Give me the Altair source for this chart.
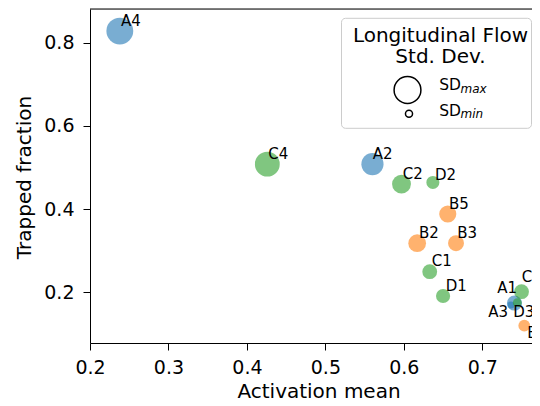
import altair as alt
import pandas as pd

# ---- data ----
names = ["A1", "A2", "A3", "A4", "B1", "B2", "B3", "B5",
         "C1", "C2", "C3", "C4", "D1", "D2", "D3"]
activation_mean = [0.741, 0.560, 0.7366, 0.238, 0.7535, 0.617, 0.6665, 0.656,
                   0.633, 0.597, 0.750, 0.426, 0.650, 0.637, 0.7446]
trapped_fraction = [0.174, 0.508, 0.1695, 0.828, 0.1197, 0.318, 0.318, 0.388,
                    0.2495, 0.460, 0.2014, 0.508, 0.191, 0.464, 0.175]
flow_sd = [0.227, 0.49, 0.05, 0.72, 0.139, 0.314, 0.254, 0.293,
           0.219, 0.356, 0.219, 0.616, 0.201, 0.17, 0.079]
label_x = [0.7191, 0.5603, 0.7076, 0.2395, 0.7574, 0.6193, 0.6681, 0.6575,
           0.6355, 0.5985, 0.7502, 0.4273, 0.6534, 0.6397, 0.7395]
label_y = [0.1976, 0.5197, 0.1399, 0.840, 0.0894, 0.3313, 0.3313, 0.4002,
           0.2632, 0.4716, 0.2255, 0.5197, 0.2038, 0.470, 0.1399]

groups = ["A", "B", "C", "D"]
group_colors = ["#1f77b4", "#ff7f0e", "#2ca02c", "#2ca02c"]
x_ticks = [0.2, 0.3, 0.4, 0.5, 0.6, 0.7]
y_ticks = [0.2, 0.4, 0.6, 0.8]

df = pd.DataFrame({
    "name": names,
    "group": [n[0] for n in names],
    "act": activation_mean,
    "trap": trapped_fraction,
    "sd": flow_sd,
    "lx": label_x,
    "ly": label_y,
})

W, H = 442, 334
FONT = "DejaVu Sans"

xscale = alt.Scale(domain=[0.2, 0.2 + W / 784.6], nice=False, zero=False)
yscale = alt.Scale(domain=[0.078, 0.881], nice=False, zero=False)
size_scale = alt.Scale(domain=[0, 1], range=[0, 1000], zero=True)

xaxis = alt.Axis(values=x_ticks, format=".1f", title="Activation mean", grid=False,
                 domainColor="black", domainWidth=1, tickColor="black", tickWidth=1,
                 tickSize=7, labelFontSize=19, labelPadding=8, labelColor="black",
                 labelFont=FONT, labelFlush=False,
                 titleFontSize=20, titleFont=FONT, titleColor="black",
                 titleFontWeight="normal", titleX=228.5, titleY=54,
                 titleBaseline="alphabetic", titleAlign="center")
yaxis = alt.Axis(values=y_ticks, format=".1f", title="Trapped fraction", grid=False,
                 domainColor="black", domainWidth=1, tickColor="black", tickWidth=1,
                 tickSize=7, labelFontSize=19, labelPadding=9, labelColor="black",
                 labelFont=FONT, labelFlush=False,
                 titleFontSize=20, titleFont=FONT, titleColor="black",
                 titleFontWeight="normal", titleX=-60, titleY=168, titleAngle=270,
                 titleBaseline="alphabetic", titleAlign="center")

points = alt.Chart(df).mark_circle(opacity=0.6, clip=True).encode(
    x=alt.X("act:Q", scale=xscale, axis=xaxis),
    y=alt.Y("trap:Q", scale=yscale, axis=yaxis),
    size=alt.Size("sd:Q", scale=size_scale, legend=None),
    color=alt.Color("group:N", scale=alt.Scale(domain=groups, range=group_colors), legend=None),
)

labels = alt.Chart(df).mark_text(align="left", baseline="alphabetic", fontSize=15,
                                 font=FONT, color="black", clip=True).encode(
    x=alt.X("lx:Q", scale=xscale),
    y=alt.Y("ly:Q", scale=yscale),
    text="name:N",
)

one = pd.DataFrame({"k": [0]})

top_spine = alt.Chart(one).mark_rule(color="black", strokeWidth=1).encode(
    x=alt.value(0), x2=alt.value(W), y=alt.value(0))

# custom legend (offset LX keeps it inside the page)
LX = -3.5
legend_box = alt.Chart(one).mark_rect(cornerRadius=4, fill="white", fillOpacity=0.8,
                                      stroke="#cccccc", strokeWidth=1).encode(
    x=alt.value(255 + LX), x2=alt.value(445 + LX), y=alt.value(9.3), y2=alt.value(119.3))

leg_t1 = alt.Chart(one).mark_text(text="Longitudinal Flow", fontSize=20, font=FONT,
                                  align="center", baseline="alphabetic", color="black").encode(
    x=alt.value(354 + LX), y=alt.value(32.7))
leg_t2 = alt.Chart(one).mark_text(text="Std. Dev.", fontSize=20, font=FONT,
                                  align="center", baseline="alphabetic", color="black").encode(
    x=alt.value(354 + LX), y=alt.value(54.3))

sd_max = pd.DataFrame({"sd": [max(flow_sd)]})
sd_min = pd.DataFrame({"sd": [min(flow_sd)]})

leg_c_max = alt.Chart(sd_max).mark_point(shape="circle", filled=False, stroke="black",
                                         strokeWidth=1.5, opacity=1).encode(
    x=alt.value(321 + LX), y=alt.value(81),
    size=alt.Size("sd:Q", scale=size_scale, legend=None))
leg_c_min = alt.Chart(sd_min).mark_point(shape="circle", filled=False, stroke="black",
                                         strokeWidth=1.5, opacity=1).encode(
    x=alt.value(322.5 + LX), y=alt.value(104.8),
    size=alt.Size("sd:Q", scale=size_scale, legend=None))

def txt(s, x, y, size, style="normal"):
    return alt.Chart(one).mark_text(text=s, fontSize=size, font=FONT, fontStyle=style,
                                    align="left", baseline="alphabetic", color="black").encode(
        x=alt.value(x + LX), y=alt.value(y))

leg_labels = [
    txt("SD", 352.7, 81, 15.5),
    txt("max", 374, 83.7, 12, "italic"),
    txt("SD", 352.7, 106.7, 15.5),
    txt("min", 374, 109.3, 12, "italic"),
]

chart = alt.layer(points, labels, top_spine, legend_box, leg_t1, leg_t2,
                  leg_c_max, leg_c_min, *leg_labels).properties(
    width=W, height=H,
    padding={"left": 82, "top": 1, "right": 0, "bottom": 55},
    autosize=alt.AutoSizeParams(type="none"),
).configure_view(stroke=None).configure(font=FONT)

chart.save("out.html", embed_options={"renderer": "svg", "actions": False})
